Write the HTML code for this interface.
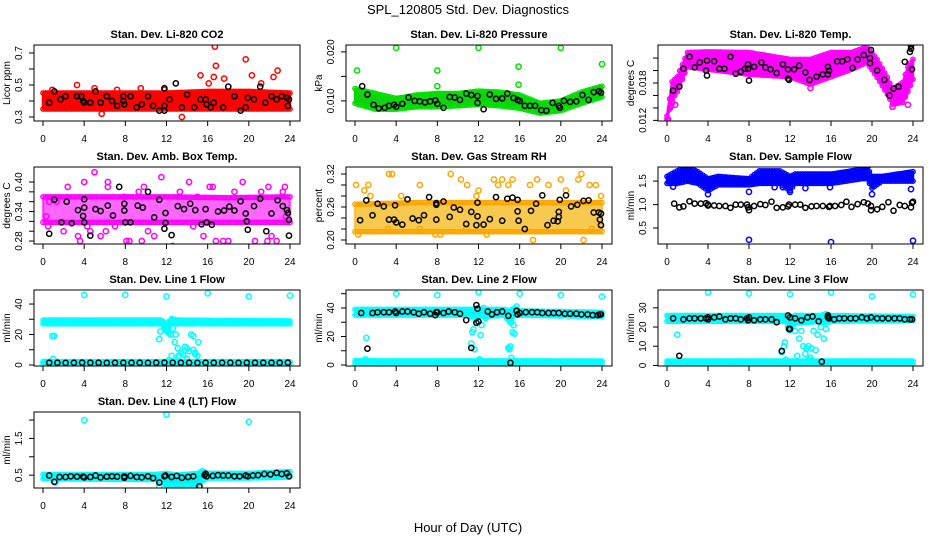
<!DOCTYPE html>
<html><head><meta charset="utf-8"><style>
html,body{margin:0;padding:0;background:#fff;}
svg{display:block;font-family:"Liberation Sans",sans-serif;}
</style></head><body>
<svg id="chart" width="936" height="540" viewBox="0 0 936 540" xmlns="http://www.w3.org/2000/svg">
<text x="468" y="14" text-anchor="middle" font-size="13">SPL_120805  Std. Dev. Diagnostics</text>
<text x="468" y="532" text-anchor="middle" font-size="13">Hour of Day (UTC)</text>
</svg>
<script>
// ---- Panel 1: CO2
const p1_bandX=[0,4,8,12,16,20,24];
const p1_bandLo=[0.35,0.35,0.35,0.35,0.35,0.35,0.35];
const p1_bandHi=[0.45,0.45,0.45,0.45,0.46,0.46,0.45];
const p1_ptsX=[15.3,16.7,16.8,16.6,19.7,20.3,22.4,22.8,17.6,16.1,13.5,5.7,3.3,9.5,21.2,11.8,0.9,1.3,5.0,7.2];
const p1_ptsY=[0.56,0.74,0.62,0.55,0.66,0.56,0.55,0.59,0.54,0.51,0.30,0.32,0.50,0.48,0.51,0.47,0.47,0.44,0.48,0.47];
const p1_blkX=[0.6,1.1,1.7,2.2,3.3,3.7,3.9,4.0,4.6,5.1,5.6,6.2,6.7,7.2,7.8,7.9,7.8,8.5,9.1,9.6,10.2,10.7,11.3,11.8,11.8,11.8,12.3,12.9,13.5,14.0,14.7,15.3,15.8,15.9,16.3,16.6,17.5,18.0,18.6,19.2,19.7,19.9,20.5,21.1,21.6,22.2,22.7,23.2,23.7,23.8,23.9];
const p1_blkY=[0.39,0.46,0.41,0.43,0.43,0.43,0.40,0.39,0.39,0.46,0.39,0.43,0.40,0.37,0.40,0.38,0.43,0.43,0.36,0.38,0.43,0.37,0.34,0.34,0.48,0.37,0.41,0.51,0.36,0.44,0.36,0.41,0.41,0.38,0.36,0.39,0.36,0.49,0.43,0.34,0.36,0.42,0.41,0.49,0.39,0.43,0.41,0.43,0.42,0.37,0.41];
// ---- Panel 2: Pressure
const p2_bandX=[0,2,4,6,8,10,12,14,16,18,20,22,24];
const p2_bandLo=[0.0095,0.0083,0.0083,0.0088,0.0088,0.0090,0.0093,0.0090,0.0085,0.0075,0.0080,0.0095,0.0108];
const p2_bandHi=[0.0125,0.0115,0.0105,0.0112,0.0115,0.0115,0.0120,0.0118,0.0112,0.0095,0.0100,0.0118,0.0130];
const p2_ptsX=[0.2,4.0,8.0,8.0,12.0,15.9,15.9,20.0,24.0];
const p2_ptsY=[0.0162,0.0208,0.0162,0.0130,0.0208,0.0170,0.0133,0.0208,0.0175];
const p2_blkX=[0.7,1.2,1.8,2.3,2.9,3.3,3.8,4.0,4.6,5.2,5.8,6.3,6.8,7.3,7.8,8.0,8.6,9.2,9.7,10.2,10.8,11.3,11.9,11.9,12.5,13.1,13.7,14.3,14.8,15.4,15.8,16.0,16.5,17.0,17.5,18.1,18.6,19.2,19.8,19.9,20.3,20.9,21.5,22.1,22.7,23.2,23.7,23.9];
const p2_blkY=[0.0130,0.0113,0.0092,0.0085,0.0086,0.0090,0.0092,0.0088,0.0094,0.0107,0.0100,0.0099,0.0097,0.0099,0.0101,0.0094,0.0086,0.0108,0.0107,0.0102,0.0115,0.0112,0.0096,0.0110,0.0083,0.0113,0.0104,0.0105,0.0115,0.0106,0.0102,0.0100,0.0090,0.0090,0.0090,0.0081,0.0080,0.0096,0.0090,0.0086,0.0100,0.0098,0.0099,0.0112,0.0102,0.0118,0.0120,0.0117];
// ---- Panel 3: Temp
const p3_bandX=[0,0.5,1,2,4,8,12,14,16,18,19.5,20.5,21.5,22,23,23.5,24];
const p3_bandLo=[0.0122,0.0154,0.0166,0.0206,0.0202,0.0194,0.0190,0.0178,0.0190,0.0202,0.0213,0.0189,0.0162,0.0146,0.0149,0.0166,0.0186];
const p3_bandHi=[0.0127,0.0182,0.0190,0.0229,0.0230,0.0229,0.0218,0.0218,0.0229,0.0229,0.0238,0.0218,0.0189,0.0170,0.0181,0.0206,0.0218];
const p3_ptsX=[0.1,0.3,0.5,0.8,5.6,14.0,22.0,23.5,23.2];
const p3_ptsY=[0.0122,0.0140,0.0148,0.0145,0.0226,0.0172,0.0142,0.0145,0.0160];
const p3_blkX=[0.6,1.2,1.6,2.7,2.2,3.2,3.8,3.9,3.9,4.6,5.1,5.6,6.2,6.7,7.2,7.6,7.9,7.9,8.0,8.5,9.2,9.6,10.1,10.7,11.3,11.8,11.8,11.9,12.4,12.9,13.5,13.9,14.6,15.2,15.7,15.8,15.7,16.6,17.1,17.6,18.1,18.6,19.2,19.8,19.8,19.9,20.5,21.2,21.7,22.1,22.6,23.2,23.7,23.8,23.8,23.9];
const p3_blkY=[0.0168,0.0174,0.0203,0.0205,0.0222,0.0213,0.0200,0.0192,0.0216,0.0215,0.0203,0.0203,0.0222,0.0195,0.0198,0.0203,0.0210,0.0203,0.0184,0.0206,0.0213,0.0205,0.0202,0.0196,0.0210,0.0202,0.0187,0.0185,0.0202,0.0208,0.0197,0.0185,0.0190,0.0194,0.0206,0.0200,0.0194,0.0215,0.0215,0.0218,0.0204,0.0218,0.0225,0.0212,0.0220,0.0233,0.0200,0.0185,0.0160,0.0171,0.0174,0.0214,0.0230,0.0235,0.0240,0.0202];
// ---- Panel 4: Amb box temp
const p4_bandX=[0,6,12,18,24];
const p4_bandLo=[0.318,0.318,0.318,0.318,0.318];
const p4_bandHi=[0.370,0.370,0.370,0.368,0.370];
const p4_ptsX=[0.3,0.6,2.0,2.4,3.4,3.6,4.0,4.3,4.6,5.0,5.6,6.1,6.3,6.3,7.0,7.9,8.1,8.4,9.3,9.6,10.2,10.8,11.5,12.6,13.3,14.2,14.6,15.6,16.2,16.5,16.8,17.5,18.0,18.6,19.4,20.6,21.2,21.6,21.9,22.2,22.7,23.3,23.5,23.6,20.8,21.8,0.5,1.3,15.0,9.8];
const p4_ptsY=[0.33,0.36,0.30,0.39,0.29,0.28,0.40,0.31,0.30,0.42,0.29,0.30,0.40,0.39,0.31,0.37,0.28,0.28,0.38,0.28,0.30,0.29,0.41,0.27,0.38,0.40,0.31,0.29,0.39,0.39,0.28,0.28,0.28,0.38,0.40,0.28,0.38,0.27,0.39,0.29,0.28,0.38,0.39,0.33,0.26,0.28,0.31,0.36,0.37,0.39];
const p4_blkX=[0.6,1.1,1.8,2.3,2.8,3.4,3.9,4.0,4.0,4.0,4.6,5.1,5.6,6.3,6.8,7.4,7.9,7.9,8.0,8.5,9.2,9.7,10.2,10.8,11.3,11.8,11.9,11.9,12.5,13.1,13.7,14.3,14.8,15.4,15.8,15.9,16.4,17.0,17.6,18.1,18.6,19.2,19.7,19.8,19.9,20.5,21.1,21.7,22.2,22.8,23.3,23.8,23.9,23.9,23.7];
const p4_blkY=[0.295,0.364,0.318,0.360,0.316,0.343,0.331,0.348,0.365,0.318,0.291,0.345,0.341,0.352,0.332,0.390,0.356,0.342,0.318,0.318,0.352,0.348,0.380,0.328,0.364,0.305,0.317,0.337,0.292,0.351,0.345,0.356,0.343,0.314,0.345,0.318,0.313,0.340,0.342,0.350,0.342,0.361,0.336,0.320,0.303,0.351,0.366,0.300,0.336,0.363,0.351,0.337,0.323,0.291,0.343];
// ---- Panel 5: RH
const p5_bandX=[0,6,12,18,24];
const p5_bandLo=[0.215,0.215,0.215,0.215,0.215];
const p5_bandHi=[0.265,0.268,0.268,0.268,0.268];
const p5_ptsX=[0.1,0.3,0.9,1.3,1.5,3.3,3.6,3.2,4.5,6.3,6.3,7.8,8.3,9.3,10.3,10.9,11.8,12.0,13.5,13.9,14.3,14.9,15.3,17.0,17.3,17.7,18.8,20.0,20.5,21.7,22.0,22.2,22.8,23.4,23.0,23.9,12.8,10.8];
const p5_ptsY=[0.30,0.21,0.29,0.30,0.28,0.32,0.32,0.22,0.28,0.30,0.22,0.21,0.21,0.32,0.31,0.30,0.28,0.29,0.31,0.30,0.31,0.30,0.31,0.30,0.20,0.31,0.30,0.31,0.29,0.31,0.32,0.20,0.30,0.30,0.22,0.28,0.21,0.22];
const p5_blkX=[0.5,1.1,1.7,2.2,2.8,3.3,3.8,3.9,4.0,4.6,5.1,5.6,6.2,6.7,7.2,7.9,7.9,7.9,8.6,9.2,9.6,10.2,10.8,11.3,11.8,11.9,11.9,12.5,13.1,13.7,14.3,14.8,15.3,15.8,15.8,15.9,16.5,17.1,17.6,18.2,18.7,19.3,19.7,19.8,19.8,19.9,20.5,21.0,21.6,22.2,22.7,23.2,23.7,23.8,23.9,23.9];
const p5_blkY=[0.236,0.272,0.245,0.266,0.261,0.237,0.237,0.263,0.232,0.228,0.274,0.239,0.236,0.245,0.278,0.267,0.264,0.237,0.270,0.242,0.259,0.255,0.229,0.251,0.227,0.268,0.243,0.228,0.238,0.278,0.235,0.275,0.277,0.273,0.252,0.235,0.220,0.253,0.266,0.281,0.227,0.235,0.234,0.242,0.251,0.273,0.281,0.261,0.264,0.271,0.272,0.250,0.250,0.237,0.227,0.248];
// ---- Panel 6: Sample flow
const p6_bandX=[0,1,2,3,4,5,8,9,11,12,12.5,16,19,19.5,20,21,24];
const p6_bandLo=[1.45,1.45,1.50,1.45,1.30,1.42,1.42,1.45,1.45,1.30,1.45,1.45,1.55,1.55,1.35,1.50,1.50];
const p6_bandHi=[1.60,1.72,1.80,1.70,1.55,1.60,1.55,1.72,1.72,1.60,1.65,1.65,1.75,1.80,1.60,1.60,1.70];
const p6_ptsX=[8,16,24,8,19.6,20,23.8,4,12,0.6,10.5,11.3,13.5,15.9];
const p6_ptsY=[0.25,0.20,0.23,1.27,1.82,1.22,1.33,1.22,1.27,1.38,1.37,1.37,1.35,1.37];
const p6_blkX=[0.7,1.2,1.6,2.2,2.7,3.3,3.8,4.0,4.0,4.6,5.1,5.7,6.2,6.7,7.2,7.8,7.9,8.0,8.5,9.1,9.6,10.2,10.7,11.3,11.8,11.9,12.5,13.0,13.5,14.1,14.6,15.2,15.8,15.9,16.4,17.0,17.5,18.0,18.6,19.2,19.6,19.9,19.9,20.5,21.0,21.6,22.1,22.7,23.2,23.8,23.9,24.0];
const p6_blkY=[1.02,0.94,0.96,1.07,1.02,1.02,1.03,0.98,1.00,0.98,0.97,0.97,0.93,1.00,1.00,1.00,0.94,0.88,0.97,1.01,0.99,1.06,0.93,0.94,0.96,1.00,1.00,1.00,0.93,0.96,0.97,0.97,0.95,0.97,0.97,0.99,1.06,0.95,1.01,1.05,1.02,0.88,0.97,0.90,0.95,1.05,0.87,0.99,0.97,0.94,1.04,1.06];
// ---- Panel 7: Line 1
const p7_bandX=[0,11.5,12,12.5,13,24];
const p7_bandLo=[27,27,22,27,27,27];
const p7_bandHi=[29.5,29.5,27,30.5,29.5,29];
const p7_band2X=[0,24];
const p7_band2Lo=[0.8,0.8];
const p7_band2Hi=[2.2,2.2];
const p7_ptsX=[4,8,12,16,20,24,0.9,1.1,0.2,1.0,11.3,11.4,11.8,12.0,12.2,12.4,12.6,12.8,12.9,12.5,13.1,13.2,13.4,13.6,13.8,14.0,14.2,14.4,14.6,14.6,14.8,15.0,15.1,13.0,14.0,12.2,14.8];
const p7_ptsY=[46,46,45,47,45,45.5,19,19,2,4,17,22,25,23,21,20,24,15,20,6,11,6,8,7,12,11,9,20,19,10,7,6,15,3,4,3,8];
const p7_blkX=[0.6,1.4,2.2,3.0,3.8,4.6,5.4,6.2,7.0,7.8,8.6,9.4,10.2,11.0,11.8,12.6,13.4,14.2,15.0,15.8,16.6,17.4,18.2,19.0,19.8,20.6,21.4,22.2,23.0,23.8];
const p7_blkY=[1.5,1.5,1.4,1.5,1.6,1.5,1.5,1.4,1.5,1.5,1.5,1.5,1.4,1.5,1.6,1.5,1.5,1.5,1.4,1.5,1.5,1.5,1.5,1.4,1.5,1.5,1.5,1.5,1.5,1.6];
// ---- Panel 8: Line 2
const p8_bandX=[0,11,11.5,12,12.5,14.5,15,15.5,16,24];
const p8_bandLo=[35,35,33,35,34,35,30,35,35,34];
const p8_bandHi=[39,39,39,39,39,39,38,40,38,37];
const p8_band2X=[0,24];
const p8_band2Lo=[0.5,0.5];
const p8_band2Hi=[3,2.8];
const p8_ptsX=[4,8,12,16,20,24,1.1,1.0,11.3,11.4,11.5,11.6,11.8,12.2,12.3,12.1,12.5,12.7,14.9,15.0,15.1,15.2,15.3,15.4,15.5,15.7,15.2];
const p8_ptsY=[50,49,51,50,49,48,19,4,15,23,25,11,30,21,28,4,40,33,12,11,13,5,23,28,22,41,30];
const p8_blkX=[0.6,1.2,1.7,2.2,2.8,3.3,3.9,4.0,4.6,5.1,5.7,6.2,6.7,7.3,7.8,7.9,8.0,8.6,9.1,9.7,10.2,10.8,11.3,11.8,11.9,11.8,12.0,12.9,13.3,13.8,14.3,14.9,15.1,15.7,15.8,16.0,16.6,17.2,17.7,18.2,18.8,19.3,19.8,20.4,20.9,21.5,22.0,22.6,23.1,23.6,23.8,23.9];
const p8_blkY=[36.5,11.5,36.5,37,37,37,37.5,36.5,37.5,37.5,37,36,37,36,35,37,37,36.5,37.5,37,36,31.5,12,42,39.5,29.5,30.5,37.5,35.5,37,37.5,34.5,1.5,38,35.5,36.5,37,37,37,36.5,36.5,36.5,36.5,36,36,36,35.5,35.5,35,35,35.5,35.5];
// ---- Panel 9: Line 3
const p9_bandX=[0,11.5,12,12.5,15,15.5,16,24];
const p9_bandLo=[23,23,18,22,23,22,23,23.5];
const p9_bandHi=[26,26,25,26,26,27,26,25.5];
const p9_band2X=[0,24];
const p9_band2Lo=[0.8,0.8];
const p9_band2Hi=[2.3,2.3];
const p9_ptsX=[4,8,12,16,20,24,1.0,11.2,11.4,11.5,11.6,12.5,12.7,12.9,13.1,13.3,13.5,13.6,13.8,14.0,14.1,14.3,14.5,14.7,15.0,15.3,15.5,13.9];
const p9_ptsY=[38,37.5,37,38,36,37,16,7,10,12,3,18,5,14,18,10,6,9,10,4,9,18,8,16,20,14,19,3];
const p9_blkX=[0.6,1.2,1.6,2.2,2.7,3.3,3.8,4.0,4.0,4.6,5.1,5.7,6.2,6.7,7.2,7.8,7.9,8.0,8.5,9.1,9.6,10.2,10.7,11.2,11.8,11.9,12.0,12.0,12.5,13.1,13.7,14.2,14.8,15.1,15.7,15.7,15.8,16.3,16.8,17.3,17.9,18.4,19.0,19.5,19.9,20.5,21.0,21.6,22.2,22.7,23.2,23.7,23.9];
const p9_blkY=[24.5,5,24,24.5,24.5,24.5,24.5,24,25,25,25.5,24,24.5,24.5,24,24.5,23.5,25,23.5,24,24,24,22.5,7.5,26,19,19,25,24.5,23.5,25,25.5,23,2,26,25,24.5,24,24.5,24.5,24.5,24.5,25,24.5,25,24.5,24.5,24.5,24.5,24.5,24,24,24];
// ---- Panel 10: Line 4
const p10_bandX=[0,11,12,13,15,15.5,16,20,24];
const p10_bandLo=[0.40,0.38,0.22,0.20,0.22,0.35,0.42,0.42,0.45];
const p10_bandHi=[0.52,0.52,0.55,0.50,0.55,0.62,0.55,0.55,0.60];
const p10_ptsX=[4,12,20,1.2,11.3,13.5];
const p10_ptsY=[2.0,2.15,1.95,0.30,0.20,0.18];
const p10_blkX=[0.6,1.1,1.6,2.2,2.7,3.3,3.9,4.0,4.6,5.1,5.6,6.2,6.7,7.2,7.9,7.9,8.5,9.1,9.6,10.2,10.7,11.3,11.8,11.9,12.5,13.0,13.5,14.1,14.6,15.2,15.7,15.8,15.9,16.5,17.0,17.5,18.0,18.6,19.1,19.7,19.9,20.4,20.9,21.5,22.1,22.7,23.2,23.7,23.9];
const p10_blkY=[0.49,0.32,0.45,0.45,0.47,0.46,0.46,0.44,0.45,0.49,0.44,0.46,0.47,0.46,0.47,0.43,0.48,0.45,0.44,0.47,0.42,0.30,0.47,0.49,0.45,0.48,0.43,0.45,0.47,0.20,0.50,0.54,0.47,0.48,0.50,0.49,0.49,0.47,0.47,0.49,0.47,0.49,0.50,0.53,0.52,0.56,0.53,0.55,0.47];
// ---- axis tick arrays
const xTicks=[0,4,8,12,16,20,24];

const NS="http://www.w3.org/2000/svg";
const svg=document.getElementById('chart');
const colX0=[43,355,667], colX24=[290,602,913];
const rows=[[45,121],[167,244],[290,366],[412,488]];

const panels=[
 {slug:'co2',title:'Stan. Dev. Li-820 CO2',yt:'Licor ppm',r:0,c:0,ylim:[0.275,0.75],ticks:[0.3,0.4,0.5,0.6,0.7],labels:{'0.3':'0.3','0.5':'0.5','0.7':'0.7'},col:'#ff0000',band:'#ff0000',op:1,
  bands:[[p1_bandX,p1_bandLo,p1_bandHi]],pts:[p1_ptsX,p1_ptsY],blk:[p1_blkX,p1_blkY]},
 {slug:'pressure',title:'Stan. Dev. Li-820 Pressure',yt:'kPa',r:0,c:1,ylim:[0.0059,0.0214],ticks:[0.010,0.015,0.020],labels:{'0.01':'0.010','0.02':'0.020'},col:'#00e000',band:'#10d010',op:1,
  bands:[[p2_bandX,p2_bandLo,p2_bandHi]],pts:[p2_ptsX,p2_ptsY],blk:[p2_blkX,p2_blkY]},
 {slug:'temp',title:'Stan. Dev. Li-820 Temp.',yt:'degrees C',r:0,c:2,ylim:[0.0119,0.0241],ticks:[0.012,0.014,0.016,0.018,0.020,0.022],labels:{'0.012':'0.012','0.018':'0.018'},col:'#ff00ff',band:'#ff00ff',op:1,
  bands:[[p3_bandX,p3_bandLo,p3_bandHi]],pts:[p3_ptsX,p3_ptsY],blk:[p3_blkX,p3_blkY]},
 {slug:'amb-box-temp',title:'Stan. Dev. Amb. Box Temp.',yt:'degrees C',r:1,c:0,ylim:[0.274,0.4305],ticks:[0.28,0.30,0.32,0.34,0.36,0.38,0.40],labels:{'0.28':'0.28','0.34':'0.34','0.4':'0.40'},col:'#ff00ff',band:'#ff00ff',op:0.6,
  bands:[[p4_bandX,p4_bandLo,p4_bandHi]],pts:[p4_ptsX,p4_ptsY],blk:[p4_blkX,p4_blkY]},
 {slug:'gas-stream-rh',title:'Stan. Dev. Gas Stream RH',yt:'percent',r:1,c:1,ylim:[0.1927,0.3327],ticks:[0.20,0.22,0.24,0.26,0.28,0.30,0.32],labels:{'0.2':'0.20','0.26':'0.26','0.32':'0.32'},col:'#ffa500',band:'#f6c030',op:0.85,
  bands:[[p5_bandX,p5_bandLo,p5_bandHi]],pts:[p5_ptsX,p5_ptsY],blk:[p5_blkX,p5_blkY]},
 {slug:'sample-flow',title:'Stan. Dev. Sample Flow',yt:'ml/min',r:1,c:2,ylim:[0.16,1.80],ticks:[0.5,1.0,1.5],labels:{'0.5':'0.5','1':'1.0','1.5':'1.5'},col:'#0000ff',band:'#0000ff',op:1,
  bands:[[p6_bandX,p6_bandLo,p6_bandHi]],pts:[p6_ptsX,p6_ptsY],blk:[p6_blkX,p6_blkY]},
 {slug:'line1-flow',title:'Stan. Dev. Line 1 Flow',yt:'ml/min',r:2,c:0,ylim:[-0.66,49.2],ticks:[0,10,20,30,40],labels:{'0':'0','20':'20','40':'40'},col:'#00ffff',band:'#00f0f0',op:1,
  bands:[[p7_bandX,p7_bandLo,p7_bandHi],[p7_band2X,p7_band2Lo,p7_band2Hi]],pts:[p7_ptsX,p7_ptsY],blk:[p7_blkX,p7_blkY]},
 {slug:'line2-flow',title:'Stan. Dev. Line 2 Flow',yt:'ml/min',r:2,c:1,ylim:[-0.7,52.6],ticks:[0,10,20,30,40,50],labels:{'0':'0','20':'20','40':'40'},col:'#00ffff',band:'#00f0f0',op:1,
  bands:[[p8_bandX,p8_bandLo,p8_bandHi],[p8_band2X,p8_band2Lo,p8_band2Hi]],pts:[p8_ptsX,p8_ptsY],blk:[p8_blkX,p8_blkY]},
 {slug:'line3-flow',title:'Stan. Dev. Line 3 Flow',yt:'ml/min',r:2,c:2,ylim:[-0.3,39.3],ticks:[0,10,20,30],labels:{'0':'0','10':'10','20':'20','30':'30'},col:'#00ffff',band:'#00f0f0',op:1,
  bands:[[p9_bandX,p9_bandLo,p9_bandHi],[p9_band2X,p9_band2Lo,p9_band2Hi]],pts:[p9_ptsX,p9_ptsY],blk:[p9_blkX,p9_blkY]},
 {slug:'line4-flow',title:'Stan. Dev. Line 4 (LT) Flow',yt:'ml/min',r:3,c:0,ylim:[0.15,2.22],ticks:[0.5,1.0,1.5,2.0],labels:{'0.5':'0.5','1.5':'1.5'},col:'#00ffff',band:'#00f0f0',op:1,
  bands:[[p10_bandX,p10_bandLo,p10_bandHi]],pts:[p10_ptsX,p10_ptsY],blk:[p10_blkX,p10_blkY]}
];

function mk(tag,attrs,parent){const e=document.createElementNS(NS,tag);for(const k in attrs)e.setAttribute(k,attrs[k]);(parent||svg).appendChild(e);return e;}
function interp(xs,ys,x){if(x<=xs[0])return ys[0];for(let i=1;i<xs.length;i++){if(x<=xs[i]){const t=(x-xs[i-1])/(xs[i]-xs[i-1]);return ys[i-1]+t*(ys[i]-ys[i-1]);}}return ys[ys.length-1];}

panels.forEach(p=>{
  const x0=colX0[p.c],x24=colX24[p.c];
  const L=x0-9,R=x24+10,T=rows[p.r][0],B=rows[p.r][1];
  const xs=h=>x0+(x24-x0)*h/24;
  const ys=v=>B-(B-T)*(v-p.ylim[0])/(p.ylim[1]-p.ylim[0]);
  const g=mk('g',{});
  
  
  const clip=mk('clipPath',{id:'clip-'+p.slug},g);
  mk('rect',{x:L,y:T,width:R-L,height:B-T},clip);
  const plot=mk('g',{'clip-path':'url(#clip-'+p.slug+')'},g);
  
  
  p.bands.forEach((b,bi)=>{
    const [bx,blo,bhi]=b;
    let d='';
    bx.forEach((x,i)=>{d+=(i?'L':'M')+xs(x).toFixed(1)+','+ys(bhi[i]).toFixed(1);});
    for(let i=bx.length-1;i>=0;i--)d+='L'+xs(bx[i]).toFixed(1)+','+ys(blo[i]).toFixed(1);
    const poly=mk('path',{d:d+'Z',fill:p.band,'fill-opacity':p.op,stroke:p.band,'stroke-opacity':p.op,'stroke-width':2.5,'stroke-linejoin':'round'},plot);
    
    
    for(let h=bx[0];h<=bx[bx.length-1]+1e-9;h+=0.25){
      [interp(bx,bhi,h),interp(bx,blo,h)].forEach(v=>{
        const c=mk('circle',{cx:xs(h).toFixed(1),cy:ys(v).toFixed(1),r:2.2,fill:'none',stroke:p.col,'stroke-width':1.3},plot);
        
        
      });
    }
  });
  p.pts[0].forEach((x,i)=>{
    const c=mk('circle',{cx:xs(x).toFixed(1),cy:ys(p.pts[1][i]).toFixed(1),r:2.6,fill:'none',stroke:p.col,'stroke-width':1.5},plot);
    
    
  });
  p.blk[0].forEach((x,i)=>{
    const c=mk('circle',{cx:xs(x).toFixed(1),cy:ys(p.blk[1][i]).toFixed(1),r:2.6,fill:'none',stroke:'#000','stroke-width':1.5},plot);
    
    
  });
  const fr=mk('rect',{x:L,y:T,width:R-L,height:B-T,fill:'none',stroke:'#000','stroke-width':1},g);
  
  
  const t=mk('text',{x:(L+R)/2,y:T-7,'text-anchor':'middle','font-size':11,'font-weight':'bold'},g);
  t.textContent=p.title;
  
  
  const xa=mk('g',{},g);
  
  
  mk('line',{x1:xs(0),x2:xs(24),y1:B,y2:B,stroke:'#000'},xa);
  xTicks.forEach(v=>{
    mk('line',{x1:xs(v),x2:xs(v),y1:B,y2:B+5,stroke:'#000'},xa);
    const tl=mk('text',{x:xs(v),y:B+21,'text-anchor':'middle','font-size':10},xa);
    tl.textContent=v;
    
    
  });
  const ya=mk('g',{},g);
  
  
  mk('line',{x1:L,x2:L,y1:ys(p.ticks[0]),y2:ys(p.ticks[p.ticks.length-1]),stroke:'#000'},ya);
  p.ticks.forEach(v=>{
    const y=ys(v);
    mk('line',{x1:L-5,x2:L,y1:y,y2:y,stroke:'#000'},ya);
    const key=String(+v.toFixed(4));
    if(p.labels[key]!==undefined){
      const tl=mk('text',{x:L-12,y:y,'text-anchor':'middle','font-size':10,transform:'rotate(-90 '+(L-12)+' '+y+')'},ya);
      tl.textContent=p.labels[key];
      
      
    }
  });
  const yt=mk('text',{x:L-24,y:(T+B)/2,'text-anchor':'middle','font-size':10,transform:'rotate(-90 '+(L-24)+' '+((T+B)/2)+')'},g);
  yt.textContent=p.yt;
  
  
});
</script>
</body></html>
